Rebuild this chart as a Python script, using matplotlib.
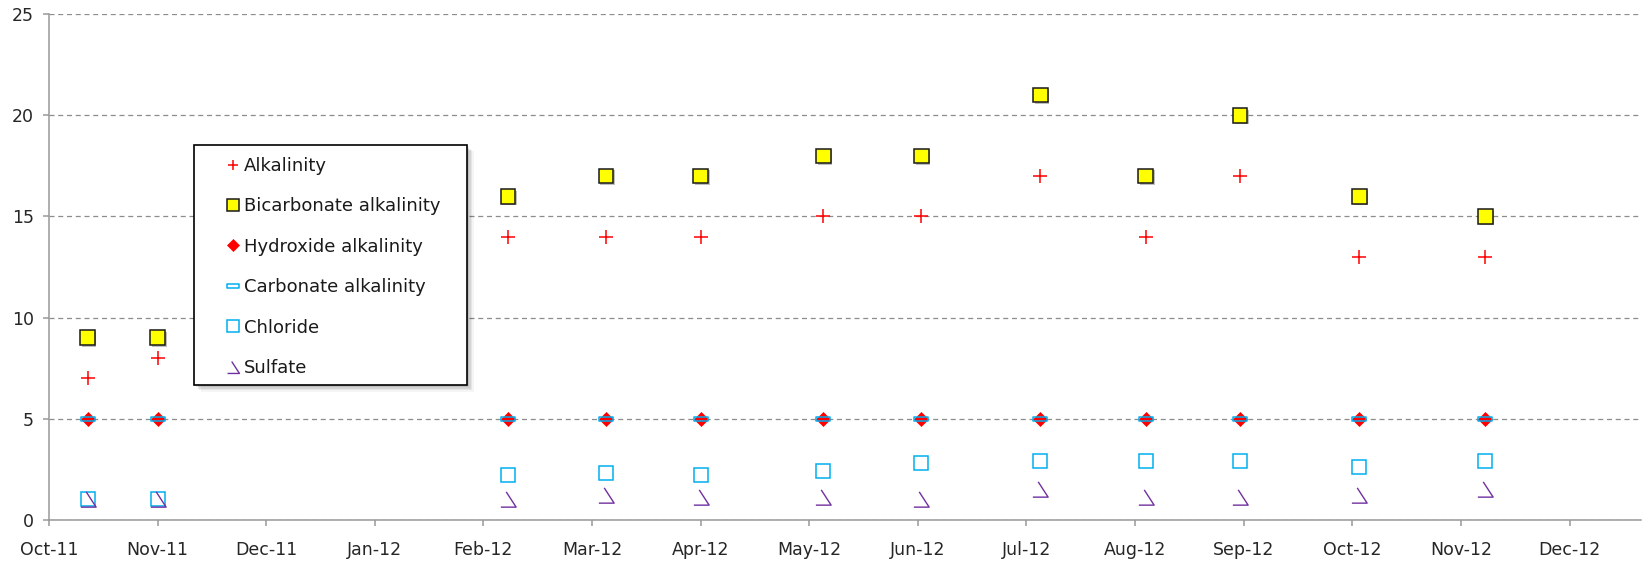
import datetime as dt

import matplotlib
matplotlib.use("Agg")
import matplotlib.dates as mdates
import matplotlib.patheffects as pe
from matplotlib import pyplot as plt
from matplotlib.lines import Line2D
from matplotlib.patches import Rectangle
from matplotlib.path import Path

plt.rcParams['font.family'] = ['DejaVu Sans']

# sampling dates and measured values (mg/L)
sample_dates = ["2011-10-12", "2011-11-01", "2012-02-09", "2012-03-08", "2012-04-04", "2012-05-09",
                "2012-06-06", "2012-07-10", "2012-08-09", "2012-09-05", "2012-10-09", "2012-11-14"]
alkalinity = [7, 8, 14, 14, 14, 15, 15, 17, 14, 17, 13, 13]
bicarbonate = [9, 9, 16, 17, 17, 18, 18, 21, 17, 20, 16, 15]
hydroxide = [5, 5, 5, 5, 5, 5, 5, 5, 5, 5, 5, 5]
carbonate = [5, 5, 5, 5, 5, 5, 5, 5, 5, 5, 5, 5]
chloride = [1.0, 1.0, 2.2, 2.3, 2.2, 2.4, 2.8, 2.9, 2.9, 2.9, 2.6, 2.9]
sulfate = [1.0, 1.0, 1.0, 1.2, 1.1, 1.1, 1.0, 1.5, 1.1, 1.1, 1.2, 1.5]

x = [dt.datetime.strptime(d, "%Y-%m-%d") for d in sample_dates]

W, H = 1644, 563
fig = plt.figure(figsize=(W / 100, H / 100), dpi=100)
ax = fig.add_axes([49 / W, 43.3 / H, (1641 - 49) / W, (519.7 - 14.3) / H])

dash_marker = Path([(-1, -0.32), (1, -0.32), (1, 0.32), (-1, 0.32), (-1, -0.32)],
                   [Path.MOVETO, Path.LINETO, Path.LINETO, Path.LINETO, Path.CLOSEPOLY])
tri_open = Path([(-0.3, 1), (1, -1), (-1, -1)], [Path.MOVETO, Path.LINETO, Path.LINETO])

shadow = [pe.SimplePatchShadow(offset=(1.2, -1.2), shadow_rgbFace='#808080', alpha=0.5), pe.Normal()]

styles = [
    ("Alkalinity", alkalinity, dict(marker='+', markersize=10, markeredgewidth=1.1, color='#FF0000')),
    ("Bicarbonate alkalinity", bicarbonate, dict(marker='s', markersize=10.5, markerfacecolor='#FFFF00',
                                                 markeredgecolor='#1a1a1a', markeredgewidth=1.1,
                                                 path_effects=shadow)),
    ("Hydroxide alkalinity", hydroxide, dict(marker='D', markersize=7.2, markerfacecolor='#FF0000',
                                             markeredgecolor='#FF0000', markeredgewidth=0.5)),
    ("Carbonate alkalinity", carbonate, dict(marker=dash_marker, markersize=10.5, markerfacecolor='none',
                                             markeredgecolor='#00B0F0', markeredgewidth=1.1)),
    ("Chloride", chloride, dict(marker='s', markersize=10.5, markerfacecolor='none',
                                markeredgecolor='#00B0F0', markeredgewidth=1.1)),
    ("Sulfate", sulfate, dict(marker=tri_open, markersize=11, markerfacecolor='none',
                              markeredgecolor='#7030A0', markeredgewidth=1.0)),
]

handles = []
for i, (name, vals, st) in enumerate(styles):
    ax.plot(x, vals, linestyle='none', zorder=3 + i, **st)
    hst = {k: v for k, v in st.items() if k != 'path_effects'}
    hst['markersize'] = hst['markersize'] * 0.78
    handles.append(Line2D([], [], linestyle='none', label=name, **hst))

# axes
start = dt.datetime(2011, 10, 1)
ax.set_xlim(start, start + dt.timedelta(days=454.4))
ax.set_ylim(0, 25)
ax.set_yticks(range(0, 26, 5))
ax.set_xticks([start + dt.timedelta(days=31 * k) for k in range(15)])
ax.xaxis.set_major_formatter(mdates.DateFormatter('%b-%y'))

for s in ['top', 'right']:
    ax.spines[s].set_visible(False)
for s in ['left', 'bottom']:
    ax.spines[s].set_color('#999999')
    ax.spines[s].set_linewidth(1.1)
ax.tick_params(axis='both', colors='#999999', width=1.1, length=4, labelcolor='#262626', labelsize=12.5)
ax.tick_params(axis='y', pad=7)
ax.tick_params(axis='x', pad=11)
ax.yaxis.grid(True, color='#8c8c8c', linestyle=(0, (4, 3)), linewidth=0.9)
ax.set_axisbelow(True)

# legend box with soft shadow
lx0, ly0, lx1, ly1 = 194, 145, 467, 385
for k, a in enumerate([0.10, 0.08, 0.06, 0.04]):
    off = 2 + k * 1.5
    fig.patches.append(Rectangle(((lx0 + off) / W, (H - ly1 - off) / H), (lx1 - lx0) / W, (ly1 - ly0) / H,
                                 transform=fig.transFigure, facecolor='black', edgecolor='none',
                                 alpha=a, zorder=1))
fig.patches.append(Rectangle((lx0 / W, (H - ly1) / H), (lx1 - lx0) / W, (ly1 - ly0) / H,
                             transform=fig.transFigure, facecolor='white', edgecolor='black',
                             linewidth=1.2, zorder=2))

fs = 13
hl = 0.8
fig.legend(handles=handles, loc='upper left',
           bbox_to_anchor=((233 - hl * fs * 100 / 72 / 2) / W, 1 - 157 / H),
           bbox_transform=fig.transFigure, frameon=False, borderpad=0, borderaxespad=0,
           handlelength=hl, handletextpad=0.2, labelspacing=1.24, fontsize=fs,
           labelcolor='#1a1a1a', numpoints=1)

fig.savefig("out.png", dpi=100)
